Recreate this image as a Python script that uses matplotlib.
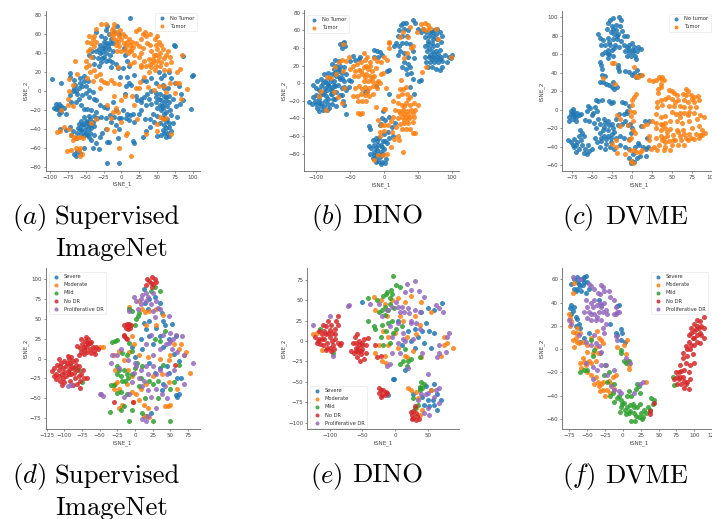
import matplotlib
matplotlib.use('Agg')
import matplotlib.pyplot as plt
import numpy as np

W, H = 712, 519

# (a) Supervised ImageNet, brain tumor
a_no_tumor = [(12,77),(-97,13),(100,17),(99,16),(97,-19),(-20,-76),(-3,-76),(75,47),(74,48),(86,37),
    (-35,62),(-28,58),(-22,64),(-18,60),(-25,52),(-20,50),(-15,55),(-30,48),(-26,45),(-18,44),(-12,50),(-22,40),(-30,40),(-36,42),(-41,42),(-33,35),(-25,36),(-16,38),(-12,42),(-28,30),(-21,32),(-38,28),(-31,26),(-13,30),(-8,28),(-5,24),(-20,68),(-6,68),(-3,60),(3,45),(5,38),(8,32),(-10,62),(-40,36),(-45,38),(-14,25),(2,24),(10,26),(-24,47),(-19,47),(-27,41),
    (-72,19),(-72,15),(-66,12),(-58,14),(-53,16),(-65,6),(-60,3),(-55,5),(-52,10),(-68,0),(-62,-3),(-50,-2),(-45,1),(-40,-1),(-45,-6),(-38,-8),(-35,-10),(-60,-8),(-64,-12),(-56,-15),(-70,-12),(-47,10),(-84,8),(-67,3),(-58,8),(-72,-4),
    (-92,-14),(-90,-17),(-87,-14),(-84,-16),(-92,-19),(-88,-20),(-84,-22),(-81,-18),(-87,-24),(-78,-24),(-94,-18),(-86,-18),
    (-53,-19),(-48,-19),(-42,-20),(-52,-27),(-45,-26),(-38,-26),(-34,-28),(-28,-27),(-22,-29),(-56,-32),(-50,-32),(-44,-30),(-60,-35),(-55,-36),(-50,-37),(-45,-35),(-40,-33),(-58,-40),(-52,-41),(-47,-40),(-42,-39),(-38,-37),(-62,-44),(-56,-45),(-50,-44),(-44,-44),(-72,-38),(-68,-42),(-78,-41),(-86,-40),(-70,-46),(-64,-50),(-45,-48),(-38,-46),(-42,-52),(-36,-55),(-32,-61),(-40,-60),(-52,-60),(-62,-63),(-66,-66),(-64,-68),(-58,-65),(-20,-54),(-18,-54),(-27,-44),(-30,-48),
    (-25,-17),(-20,-18),(-12,-12),(-8,-20),(-16,-25),(-10,-27),(-4,-28),(-14,-33),(0,-28),(6,-28),(8,-24),(12,-25),(16,-24),(10,-31),(18,-33),(-3,-40),(-8,-36),(-22,-40),(16,-53),(18,-55),(-5,-50),(5,-3),(6,5),(10,8),(13,6),(-2,15),(8,15),(17,17),(-35,-22),(-30,-15),(2,-20),(22,-10),(28,-8),(20,-5),
    (30,12),(35,10),(42,14),(48,8),(55,14),(60,17),(52,20),(66,20),(70,14),(75,8),(80,5),(84,-3),(86,-10),(82,-14),(76,-16),(72,-8),(66,-5),(60,-5),(54,-3),(48,-2),(42,0),(36,-3),(32,-6),(28,-12),(34,-15),(42,-14),(48,-12),(55,-10),(60,-13),(64,-16),(68,-20),(62,-22),(56,-20),(50,-18),(44,-24),(50,-26),(58,-28),(64,-30),(70,-25),(78,-27),(40,-30),(33,-30),(46,-33),(54,-34),(60,-36),(66,-38),(72,-34),(58,-41),(64,-44),(70,-42),(50,-47),(56,-46),(63,-48),(30,-48),(34,-42),(40,-38),(62,-10),(66,-12),(57,-16),(60,3),(48,-6),(58,6),(65,3),(24,-24),(27,-20),(38,-8),
    (-23,56),(-16,50),(-32,44),(-23,44),(-27,35),(-18,33),(-54,-35),(-48,-33),(-52,-46),(-48,-46),(-56,-41),(-61,-39),(-44,-36),(58,-18),(60,-24),(62,-32),(66,-34),(60,-44),(66,-47),(62,-39),(54,-15),(52,-8),(63,-6),(-63,0),(-55,-4),(-50,5)]
a_tumor = [(-35,65),(-28,70),(-22,70),(-12,66),(-10,71),(-6,62),(-2,64),(5,58),(10,55),(15,52),(-45,58),(-40,55),(-48,52),(-42,50),(-38,47),(-35,52),(-15,60),(-12,56),(-8,54),(-4,58),(0,55),(3,50),(7,47),(12,48),(16,46),(20,50),(-8,48),(-3,47),(-6,42),(0,42),(5,43),(9,40),(14,42),(18,38),(-47,42),(-42,36),(-50,32),(-46,27),(-38,22),(-30,18),(-36,16),(-44,20),(-50,25),(-48,14),(-28,12),(-25,9),(-20,8),(-40,10),(-30,3),(-65,32),(-62,18),(-73,13),(-68,6),(-75,-8),(-73,0),
    (20,63),(25,65),(33,62),(34,58),(28,55),(24,47),(28,40),(30,45),(40,60),(47,55),(50,58),(52,52),(55,48),(48,48),(40,48),(36,50),(42,42),(48,38),(54,40),(60,35),(65,42),(68,36),(70,30),(62,28),(56,30),(50,32),(44,30),(38,34),(32,32),(28,27),(34,26),(42,25),(48,26),(54,26),(60,22),(66,22),(78,20),(82,23),(85,38),(18,30),(12,28),(24,36),(28,25),(38,20),(-5,25),
    (20,3),(25,3),(32,15),(26,9),(37,4),(45,1),(52,5),(62,-1),(68,8),(75,-2),(77,8),(80,8),(92,2),(83,-8),(60,5),(50,-35),(58,-30),(62,-28),(54,-27),(70,-45),(50,-42),(35,-45),
    (-4,7),(-10,8),(-15,12),(5,-5),(0,-10),(-10,-5),(-20,-15),(-5,-22),(-12,-22),(-8,-18),(0,-33),(8,-44),(7,-46),(-10,-42),(-4,-60),(13,-69),(-15,-28),(-20,-40),(18,-15),(15,-5),(22,-30),
    (-90,-43),(-86,-42),(-80,-38),(-74,-40),(-70,-46),(-66,-48),(-62,-50),(-68,-52),(-58,-48),(-54,-50),(-64,-60),(-60,-62),(-70,-62),(-76,-63),(-58,-68),(-55,-66),(-58,-60),(-42,-34),(-35,-30),(-84,-20),(-75,-15),(-68,-16),
    (-10,60),(-5,52),(2,60),(8,52),(12,43),(-13,64),(45,38),(50,44),(44,34),(52,36),(58,44),(40,28),(47,22),(62,38),(-44,44),(-38,58),(30,60)]

# (b) DINO, brain tumor
b_no_tumor = [(-110,-21),(-106,-24),(-102,-20),(-98,-28),(-95,-32),(-90,-30),(-100,-14),(-104,-16),(-96,-18),(-92,-22),(-88,-26),(-84,-31),(-80,-28),(-86,-20),(-82,-18),(-76,-24),(-70,-26),(-72,-18),(-78,-12),(-90,-12),(-95,-8),(-100,-5),(-92,-3),(-86,-6),(-82,-2),(-76,-5),(-70,-10),(-65,-14),(-60,-20),(-58,-25),(-56,-35),(-104,-2),(-98,2),(-92,5),(-86,3),(-80,6),(-74,3),(-68,-2),(-62,-6),(-56,-8),(-52,-4),(-88,10),(-82,12),(-76,10),(-70,8),(-64,5),(-58,2),(-52,4),(-48,2),(-74,16),(-68,14),(-62,12),(-56,10),(-76,22),(-70,20),(-64,20),(-58,18),(-72,26),(-66,25),(-60,46),(-58,47),(-64,44),(-57,42),(-62,40),(-50,25),(-45,31),(-42,26),(-37,27),(-35,30),(-85,-15),(-78,-8),(-72,-3),(-66,7),(-94,-13),(-75,-18),(-62,-14),
    (-14,38),(-10,37),(-6,35),(-3,32),(-8,30),(-15,30),(5,14),(8,15),(-25,-9),(-28,-10),(7,-12),(-12,-3),
    (25,66),(28,68),(33,68),(30,62),(22,60),(36,60),(20,54),(27,54),(34,54),(42,72),(45,68),(50,62),(55,58),(18,45),(22,42),(15,42),(26,46),(32,46),(38,44),(24,36),(30,34),(20,32),(36,30),(42,36),(44,28),(30,24),(36,22),(26,18),(32,16),(38,18),(40,12),(34,10),(42,5),(52,2),(55,4),(38,-4),(44,-12),
    (58,62),(62,58),(66,54),(70,58),(74,60),(78,62),(82,58),(86,54),(60,52),(65,48),(72,50),(78,50),(84,47),(60,42),(66,40),(72,42),(78,43),(63,36),(70,36),(76,36),(82,38),(60,30),(66,30),(72,30),(78,30),(84,30),(90,32),(96,30),(99,28),(100,32),(62,24),(68,24),(74,24),(80,24),(86,25),(92,24),(64,18),(70,18),(76,16),(82,15),(86,18),
    (-22,-49),(-20,-52),(-6,-48),(-3,-40),(2,-42),(8,-38),(-2,-32),(-5,-46),(0,-58),(6,-55),(12,-50),(16,-45),(8,-62),(14,-60),(2,-66),
    (-22,-71),(-19,-74),(-14,-70),(-10,-66),(-8,-70),(-3,-72),(-16,-64),(-12,-62),(-7,-62),(-2,-66),(4,-68),(-20,-80),(-15,-78),(-10,-76),(-5,-78),(0,-75),(-16,-85),(-12,-84),(-6,-84),(-1,-80),(-8,-88),(-3,-90),(1,-91),(3,-86),(-11,-90),(-5,-92),
    (-88,-10),(-84,-8),(-80,-3),(-74,-2),(-90,0),(-84,0),(-78,3),(-72,12),(-66,16),(-62,6),(-58,-4),(-96,-22),(-100,-24),(-92,-26),(-76,-12),(-82,-24),(68,58),(72,54),(76,56),(64,44),(70,46),(68,32),(74,33),(80,33),(76,27),(70,27),(82,27),(-12,-74),(-8,-80),(-14,-82),(-4,-70)]
b_tumor = [(-60,44),(-72,18),(-66,24),(-62,26),(-56,25),(-52,30),(-60,14),(-70,10),(-78,6),(-84,7),(-92,-9),(-95,-15),(-74,-10),(-68,-16),(-62,-22),(-85,-30),(-58,-5),
    (-50,16),(-46,20),(-40,22),(-34,24),(-28,26),(-30,34),(-25,30),(-20,24),(-14,28),(-10,25),(-4,24),(0,30),(5,26),(-42,14),(-36,15),(-30,18),(-24,16),(-18,14),(-12,17),(-44,8),(-38,8),(-32,10),(-26,10),(-20,8),(-14,8),(-30,2),(-24,2),(-18,2),(-12,0),(-6,0),(-5,10),(-42,-5),(-36,-3),(-28,-4),(-22,-6),(-16,-3),(-10,-6),(-45,-15),(-40,-15),(-34,-12),(-28,-13),(-22,-15),(-16,-12),(-38,-20),(-32,-20),(-26,-20),(-38,-34),(-35,-35),(-32,-34),(-12,-27),(0,-29),(2,-29),(3,-5),(-1,12),(7,40),(7,47),(8,45),
    (24,-7),(28,-7),(33,-4),(25,4),(20,-15),(26,-12),(34,-12),(38,-16),(14,-20),(20,-22),(26,-25),(32,-22),(38,-25),(44,-22),(50,-25),(16,-30),(22,-32),(28,-30),(34,-32),(40,-30),(46,-30),(14,-38),(20,-40),(26,-38),(32,-38),(38,-38),(44,-38),(24,-46),(30,-45),(36,-45),(42,-44),(26,-52),(32,-52),(38,-52),(46,-56),(42,-56),(18,-50),(12,-55),(20,-60),(22,-65),(15,-63),(28,-78),(-8,-42),(-4,-47),(0,-48),(-6,-55),(0,-54),(-6,-60),(6,-47),(10,-43),(10,-72),(-2,-82),(-8,-82),(-14,-87),(4,-80),
    (48,58),(55,67),(60,68),(64,66),(58,62),(63,60),(68,63),(76,62),(80,50),(62,18),(56,13),(98,30),(38,64),(28,58),(24,52),(36,52),(40,40),(34,34),(30,28),(42,42),
    (-27,20),(-21,19),(-33,14),(-28,7),(-17,6),(-9,3),(-25,-10),(-32,-7),(30,-35),(36,-35),(30,-42),(36,-41),(24,-34),(42,-34),(30,-26),(36,-18)]

# (c) DVME, brain tumor
c_no_tumor = [(-30,94),(-27,97),(-23,99),(-16,100),(-14,97),(-20,92),(-25,90),(-31,87),(-20,86),(-15,90),(-12,85),(-26,84),(-22,82),(-17,82),(-10,80),(-6,80),(-42,82),(-40,78),(-36,75),(-30,78),(-24,76),(-19,76),(-14,74),(-38,70),(-33,70),(-27,70),(-21,70),(-16,68),(-30,65),(-25,65),(-34,62),(-28,60),(-37,60),(-30,56),(-24,58),(-10,70),(-6,68),(-3,70),(0,72),(3,68),(8,68),(11,66),(-8,64),(-3,62),(2,62),(6,63),(-6,58),(-1,58),(4,58),(5,55),(-40,52),(-38,48),(-37,44),(-37,38),(-34,36),(-40,30),(-36,30),(-32,28),(-28,27),(-25,25),(-22,22),(-19,25),(-24,30),(-17,48),(-17,45),(-16,42),(-8,42),(-3,41),(0,38),(3,40),(6,43),(9,38),(12,37),(5,35),
    (-76,-5),(-78,-8),(-74,-10),(-70,-8),(-66,-6),(-72,-2),(-76,-1),(-73,1),(-78,-12),(-70,-12),(-64,-5),(-59,-11),
    (-52,2),(-55,4),(-56,-1),(-48,-3),(-44,-1),(-46,3),(-50,-6),(-42,-10),(-53,-12),(-47,-14),(-40,-15),(-35,-10),(-30,-12),(-25,-15),(-35,-19),(-30,-22),(-24,-20),(-20,-10),(-17,-17),(-12,-15),(-8,-12),(-5,-17),(-2,-15),(-16,-5),(-10,-5),(-6,-3),(-40,-25),(-35,-28),(-30,-28),(-25,-26),(-20,-30),(-15,-28),(-10,-31),(-45,-20),(-46,-30),(-44,-35),(-38,-34),(-32,-37),(-26,-35),(-40,-40),(-34,-42),(-27,-40),(-22,-42),(-15,-38),(-8,-40),(-3,-42),(4,-40),(9,-38),(14,-40),(18,-42),(-45,11),(-42,9),(-37,11),(-28,9),(-26,7),(-23,8),(-12,8),(-8,7),(-4,4),(-6,-1),
    (-80,-33),(-76,-35),(-72,-32),(-68,-35),(-66,-28),(-62,-25),(-60,-28),(-65,-22),(-72,-40),(-66,-42),(-62,-38),(-58,-42),(-55,-38),(-70,-46),(-60,-47),(-54,-45),(-56,-48),(-50,-42),
    (-3,-52),(0,-55),(-1,-58),(3,-56),(6,-52),(2,-48),(10,-50),(18,-50),(20,-40),(8,-36),(-4,-32),(-1,-25),(0,-20),(12,-18),(16,-12),(22,-12),(19,-30),
    (-24,87),(-18,80),(-28,73),(-22,67),(-30,60),(-3,66),(1,65),(-74,-5),(-72,-7),(-68,-4),(-38,-30),(-32,-32),(-26,-30),(-36,-22),(-28,-17),(-34,-14),(-22,-24),(-70,-38),(-64,-33),(-74,-38)]
c_tumor = [(-25,50),(-22,50),(-36,34),(-21,28),(3,46),(5,36),(8,35),(13,37),(22,32),(26,31),(30,32),(34,35),(37,33),(40,32),(38,35),(36,28),(37,25),(33,22),(33,18),(46,21),(50,20),(53,18),(57,16),(64,17),(68,22),(71,20),(74,16),(78,14),(83,15),(31,8),(36,10),(41,12),(45,14),(50,12),(58,10),(65,10),(71,8),(78,8),(84,10),(32,3),(38,5),(47,4),(53,4),(60,4),(66,3),(73,3),(80,3),(50,-2),(55,-5),(60,-3),(66,-3),(72,-2),(78,-4),(85,-6),(90,-8),(30,-5),(36,-8),(42,-7),(25,-12),(30,-14),(36,-15),(42,-14),(48,-12),(56,-12),(63,-14),(72,-12),(82,-10),(14,-18),(19,-15),(30,-20),(36,-22),(42,-20),(48,-21),(56,-22),(64,-22),(76,-20),(84,-18),(88,-22),(92,-25),(86,-27),(80,-26),(72,-26),(66,-26),(60,-28),(52,-27),(44,-28),(36,-28),(30,-30),(22,-28),(21,-33),(38,-33),(46,-34),(54,-33),(62,-33),(70,-33),(78,-32),(84,-31),(66,-38),(58,-38),(50,-38),(42,-40),(34,-38),(28,-40),(24,-42),(48,-43),(40,-43),(32,-44),
    (-1,-7),(-2,-1),(3,-2),(0,5),(0,10),(3,14),(5,17),(1,-12),(2,-22),(-1,-30),(4,-25),(-5,-16),(-15,-10),(-18,-6),(-15,-18),(-20,-33),(-25,-37),(-20,-40),(-18,-47),(-8,-48),(-2,-44),(3,-43),(5,-46),(10,-46),(13,-44),(-1,-55),(1,-57),(-4,-33),
    (38,-16),(44,-24),(40,-30),(52,-33),(58,-24),(68,-30),(74,-30),(88,-27),(60,-8),(70,-6),(75,12),(68,16),(54,8),(42,-35)]

# (d) Supervised ImageNet, diabetic retinopathy
d_severe = [(12,88),(20,75),(14,70),(28,78),(35,70),(18,62),(38,57),(40,47),(20,47),(12,45),(30,38),(42,42),(52,43),(35,28),(15,37),(20,28),(25,18),(8,25),(40,15),(48,25),(58,28),(10,12),(55,6),(62,-3),(45,-10),(35,-12),(48,-18),(60,-25),(65,-24),(-5,15),(0,2),(20,-5),(40,-32),(58,-46),(60,-48),(62,-44),(22,-68),(15,-72),(38,-40),(28,-18)]
d_moderate = [(-8,65),(5,72),(10,62),(14,58),(20,60),(30,62),(40,55),(15,42),(30,42),(-5,28),(-2,18),(55,18),(65,18),(72,8),(62,12),(50,5),(78,-18),(70,5),(-30,5),(-22,10),(-15,-2),(-8,8),(5,5),(18,2),(35,0),(48,-2),(-28,-15),(-25,-30),(-22,-38),(-30,-38),(-12,-32),(-5,-42),(2,-45),(8,-38),(15,-32),(25,-22),(38,-20),(48,-30),(-50,14),(-3,-55),(5,-52),(12,-58),(18,-62),(-18,-58),(-22,-62),(12,-72),(20,-74),(42,-60),(46,-60),(50,-58),(-28,-32),(-5,-22),(-10,-15),(-45,14),(60,-38)]
d_mild = [(-33,21),(-28,22),(-25,23),(-8,20),(-5,10),(-12,5),(-18,7),(0,42),(2,50),(4,53),(6,57),(-8,62),(-4,60),(36,85),(22,85),(28,90),(42,35),(36,22),(28,25),(-30,-33),(-25,-10),(-22,-15),(-25,-20),(-20,-22),(-16,-14),(-12,-20),(-18,-28),(-14,-28),(-10,-25),(-5,-20),(0,-12),(3,-5),(10,-10),(8,-25),(20,-28),(25,-32),(32,-28),(50,-38),(-34,-33),(-35,-67),(-20,-65),(-15,-60),(-5,-65),(10,-68),(25,-78),(-9,-78),(50,-78),(-25,-43),(5,-35),(55,-30),(40,-8),(-20,-42),(-12,-45),(-75,-30),(-80,-15),(-85,-12),(14,-50),(32,-50),(62,-8)]
d_no_dr = [(-118,-16),(-115,-12),(-112,-20),(-110,-8),(-108,-15),(-112,-26),(-106,-28),(-104,-20),(-102,-12),(-105,-5),(-108,0),(-100,-3),(-98,-10),(-95,-16),(-98,-22),(-100,-30),(-92,-28),(-90,-20),(-88,-12),(-92,-6),(-94,-1),(-88,-3),(-84,-8),(-82,-15),(-85,-24),(-88,-33),(-82,-32),(-78,-28),(-76,-20),(-74,-14),(-78,-37),(-80,-10),(-72,-24),(-68,-25),(-115,-22),(-103,-33),(-95,3),(-90,2),(-84,-2),
    (-80,5),(-76,8),(-78,13),(-82,16),(-75,18),(-71,22),(-76,24),(-70,27),(-66,25),(-62,21),(-66,18),(-70,15),(-64,12),(-60,15),(-58,10),(-62,7),(-68,8),(-72,6),(-55,14),(-52,12),(-56,6),
    (17,100),(20,98),(24,102),(28,100),(22,95),(26,94),(30,96),(16,93),(24,90),
    (-15,42),(-12,44),(-9,43),(-6,42),(-13,38),(-10,37),(-7,38),(-16,28),(-13,26),(-11,24),(-15,30),(-30,-55),(-3,-55),(56,-8),
    (-106,-10),(-102,-24),(-96,-6),(-94,-20),(-90,-10),(-86,-18),(-80,-22),(-108,-22),(-100,-17),(-92,-13),(-72,15),(-68,20),(-72,11),(-64,20)]
d_proliferative = [(10,80),(15,82),(25,82),(-2,78),(2,72),(8,75),(16,72),(22,68),(30,72),(36,62),(25,60),(4,62),(48,54),(-8,60),(28,52),(40,30),(50,32),(58,30),(66,28),(48,20),(52,12),(60,8),(70,5),(35,12),(25,5),(-20,12),(-25,5),(-32,4),(-34,-5),(-22,-12),(-10,-2),(0,-6),(8,-15),(15,-10),(25,-10),(35,-15),(45,-20),(55,-15),(70,-32),(82,-5),(-48,-45),(-46,-47),(-50,-45),(-95,-35),(-90,-33),(5,-25),(12,-28),(18,-40),(30,-38),(38,-45),(45,-50),(2,-10),(15,-78),(10,-76),(18,-72),(30,-62),(-8,-45),(-5,-30),(15,18),(22,30),(42,-35),(-15,-48),
    (50,22),(54,25),(44,18),(30,-20),(18,-20),(10,-35),(22,-48),(8,68),(18,78),(32,64),(-2,-18)]

# (e) DINO, diabetic retinopathy
e_severe = [(50,40),(60,38),(72,46),(40,35),(48,22),(42,12),(52,12),(60,10),(30,15),(20,12),(35,5),(45,-2),(55,-8),(25,0),(10,-5),(-2,-46),(-3,-46),(-10,-66),(28,-65),(38,-58),(48,-55),(60,-52),(55,-60),(65,-65),(70,-72),(42,-68),(50,-72),(58,-72),(45,-78),(52,-80),(65,-85),(60,-78),(30,-8),(5,25),(-50,48),(15,-35)]
e_moderate = [(-32,54),(-22,50),(-15,45),(-5,50),(5,52),(15,48),(25,55),(40,48),(-30,38),(-12,30),(8,30),(30,30),(55,35),(-18,12),(-10,5),(0,10),(18,5),(32,8),(-25,-5),(-15,-18),(-20,-25),(-10,-5),(5,-8),(15,-18),(28,-12),(-120,10),(-125,8),(-112,-11),(75,5),(88,-8),(80,-2),(75,-5),(70,-18),(20,-57),(25,-60),(32,-62),(35,-70),(55,-60),(38,-90),(32,-82),(42,-85),(-30,-15),(-14,-27),(18,-20),(40,-20),(12,25),(38,20)]
e_mild = [(-3,79),(-6,62),(-12,60),(-18,55),(-8,52),(2,68),(8,66),(-42,52),(-28,50),(-25,35),(-15,32),(-42,25),(-32,18),(-20,20),(-5,25),(-30,15),(-22,5),(-8,-2),(-18,-5),(2,15),(10,18),(15,-10),(20,-25),(25,-22),(38,-20),(12,-25),(18,-30),(8,-28),(-2,40),(-10,38),(-3,10),(-115,15),(-95,-15),(40,-50),(38,-56),(45,-53),(28,-70),(35,-78),(30,-82),(38,-60),(42,-58),(-20,38),(-8,45),
    (-14,58),(-4,58),(-16,42),(-10,22),(-14,12)]
e_no_dr = [(-122,5),(-118,0),(-115,-4),(-120,-2),(-112,8),(-108,12),(-105,18),(-102,25),(-108,3),(-104,-2),(-100,-8),(-110,-5),(-105,-11),(-98,-12),(-95,-5),(-100,5),(-96,10),(-92,15),(-90,25),(-88,30),(-92,2),(-88,-3),(-85,-5),(-82,-2),(-98,20),(-110,20),(-116,12),(-88,20),
    (-62,5),(-58,8),(-65,-3),(-60,-8),(-55,-5),(-50,-10),(-45,-5),(-48,3),(-42,4),(-68,-12),(-63,-15),(-57,-14),(-52,-16),(-48,-22),(-58,-20),(-53,-24),(-45,-15),(-55,0),(-50,-2),(-60,-2),
    (-30,-5),(-28,-20),(-22,-18),
    (-24,-58),(-22,-60),(-18,-60),(-14,-62),(-24,-64),(-20,-66),(-16,-66),(-12,-64),(-22,-68),
    (32,-88),(28,-86),(26,-90),(34,-92),(28,-94),(32,-97),(36,-96),(26,-96),(30,-80),(24,-87),
    (-112,2),(-106,8),(-100,14),(-104,-8),(-96,0),(-92,8),(-116,3),(-94,-10),(-102,10),(-56,-10),(-50,-5),(-60,-12),(-52,-12)]
e_proliferative = [(-72,43),(-70,44),(18,70),(30,74),(25,62),(36,61),(15,60),(45,54),(-12,38),(-5,42),(2,48),(10,42),(20,40),(30,38),(38,35),(62,44),(68,40),(74,36),(-100,30),(-125,19),(-20,30),(-8,18),(5,22),(12,10),(25,22),(38,15),(-5,5),(5,-2),(15,0),(28,2),(-5,-15),(-8,-28),(-12,-30),(8,-15),(20,-33),(50,-40),(42,-15),(65,-20),(68,-15),(78,-14),(80,5),(82,10),(68,-5),(-95,-18),(40,-65),(50,-63),(62,-60),(68,-58),(45,-88),(50,-82),(52,-90),(60,-68),(68,-76),(35,-72),(48,-65),(-25,45),(-38,45),
    (8,35),(14,36),(22,34),(5,42),(24,24),(32,22),(12,2)]

# (f) DVME, diabetic retinopathy
f_severe = [(-68,52),(-72,56),(-68,60),(-64,62),(-60,60),(-55,62),(-52,63),(-50,58),(-62,56),(-56,55),(-48,52),(-66,50),(-58,50),(-52,48),(-72,38),(-74,35),(-70,33),(-68,36),(-72,30),(-66,28),(-64,26),(-62,22),(-66,20),(-60,18),(-30,38),(-34,42),(-18,22),(-5,38),(-8,37),(-9,14),(-8,12),(-2,17),(-1,14),(-2,8),(3,6),(-55,10),(-48,14),(-60,6),(-32,-3),
    (-64,58),(-60,54),(-54,58),(-64,52),(-56,60)]
f_moderate = [(-75,30),(-74,27),(-72,24),(-74,20),(-70,48),(-68,57),(-70,15),(-64,18),(-60,14),(-66,10),(-70,8),(-68,2),(-62,5),(-56,6),(-50,4),(-44,10),(-36,16),(-34,10),(-30,8),(-38,2),(-28,5),(-35,-3),(-42,-3),(-50,-2),(-56,-8),(-60,-12),(-58,-16),(-52,-14),(-44,-12),(-38,-10),(-50,-20),(-44,-22),(-38,-24),(-40,-30),(-35,-28),(-30,-30),(-32,-36),(-28,-35),(-22,-35),(-25,-40),(-18,-38),(-12,-34),(-10,-22),(-14,-24),(6,8),(2,4),(-8,2),(5,-4),(7,-10),(8,-14),(9,-17),(-20,-27),(-16,-30),(32,-28),
    (-54,-11),(-48,-10),(-64,6),(-34,-32),(-28,-28),(-66,14)]
f_mild = [(-45,8),(-40,-1),(-42,-6),(-50,-18),(-55,-18),(-25,-14),(-20,-20),(-27,-22),(-22,-28),(-12,-30),(-18,-40),(-14,-38),(-8,-42),(-12,-45),(-5,-40),(-3,-44),(-2,-50),(-4,-54),(2,-46),(3,-52),(6,-40),(8,-36),(12,-40),(10,-48),(14,-47),(8,-55),(4,-56),(12,-62),(17,-62),(16,-55),(20,-50),(25,-55),(22,-58),(27,-60),(30,-52),(35,-50),(38,-52),(42,-47),(44,-44),(40,-42),(20,-30),(23,-32),(18,-34),(24,-38),(-2,-1),(-3,-3),(1,-10),(5,-12),(8,-10),(70,-24),(72,-31),(28,-58),(33,-55),(-60,-20),
    (6,-50),(10,-53),(15,-50),(18,-57),(-1,-47),(24,-47)]
f_no_dr = [(113,28),(108,24),(104,25),(100,22),(110,20),(114,18),(106,18),(100,16),(96,18),(104,12),(110,12),(114,10),(98,10),(92,12),(104,6),(108,5),(100,4),(92,6),(94,0),(88,3),(98,-4),(90,-6),(84,-8),(88,-12),(94,-14),(100,-12),(80,-14),(86,-18),(92,-20),(78,-20),(74,-20),(72,-26),(78,-26),(84,-24),(76,-30),(82,-30),(90,-28),(94,-26),(86,-33),(92,-34),(43,-46),(38,-53),(38,-56),
    (104,20),(108,14),(100,10),(96,4),(90,0),(84,-3),(82,-19),(86,-27),(80,-24),(88,-30),(102,17),(96,14),(76,-24)]
f_proliferative = [(-70,62),(-60,60),(-48,56),(-44,54),(-40,52),(-35,48),(-30,55),(-28,53),(-26,50),(-32,47),(-20,50),(-18,45),(-12,42),(-52,42),(-50,36),(-45,40),(-42,36),(-36,38),(-26,40),(-55,32),(-48,32),(-40,30),(-34,32),(-28,32),(-22,30),(-50,27),(-44,25),(-38,25),(-30,25),(-24,22),(-28,18),(-26,14),(-10,36),(-8,32),(-10,30),(-5,32),(-12,30),(-76,25),(-72,22),(-62,12),(-52,6),(-44,4),(-38,5),(-34,3),(-40,12),(-30,-2),(-10,11),(-8,8),(4,-8),(10,-12),(-52,-12),(-42,-15),(-36,-18),(-30,-14),(-24,-14),(-12,-18),(-42,-26),(-22,-22),(-16,-32),(-12,-35),(-5,-36),(16,-38),(28,-28),(24,-30),(-3,-38),
    (-40,42),(-32,40),(-44,30),(-36,28),(-30,36),(-24,34)]

tumor_labels = ['No Tumor', 'Tumor']
tumor_labels_c = ['No tumor', 'Tumor']
dr_labels = ['Severe', 'Moderate', 'Mild', 'No DR', 'Proliferative DR']
colors = ['tab:blue', 'tab:orange', 'tab:green', 'tab:red', 'tab:purple']

plt.rcParams['mathtext.fontset'] = 'cm'
fig = plt.figure(figsize=(W / 100, H / 100), dpi=100)


def panel(box, xlim, ylim, xticks, yticks, series, labels, legend_box, title):
    l, t, r, b = box
    ax = fig.add_axes([l / W, 1 - b / H, (r - l) / W, (b - t) / H])
    for pts, lab, col in zip(series, labels, colors):
        pts = np.array(pts)
        ax.scatter(pts[:, 0], pts[:, 1], s=13, c=col, alpha=0.85, linewidths=0, label=lab)
    ax.set_xlim(xlim)
    ax.set_ylim(ylim)
    ax.set_xticks(xticks)
    ax.set_yticks(yticks)
    ax.tick_params(labelsize=4, length=1.5, width=0.4, pad=1.5, colors='#444444')
    ax.set_xlabel('tSNE_1', fontsize=4, labelpad=1, color='#444444')
    ax.set_ylabel('tSNE_2', fontsize=4, labelpad=1, color='#444444')
    ax.spines['top'].set_visible(False)
    ax.spines['right'].set_visible(False)
    for s in ['left', 'bottom']:
        ax.spines[s].set_linewidth(0.6)
        ax.spines[s].set_color('#666666')
    # legend box is given as its upper-left corner in pixels
    leg = ax.legend(loc='upper left', bbox_to_anchor=(legend_box[0] / W, 1 - legend_box[1] / H),
                    bbox_transform=fig.transFigure, fontsize=3.7, borderaxespad=0, labelspacing=0.62,
                    handletextpad=0.5, borderpad=0.5, frameon=True, framealpha=0.8,
                    edgecolor='#dddddd', fancybox=True, labelcolor='#333333', markerscale=0.8)
    leg.get_frame().set_linewidth(0.4)
    for txt, x, y in title:
        fig.text(x / W, 1 - y / H, txt, fontsize=19.2, color='black', va='baseline',
                 family='cmr10' if not txt.startswith('$') else None)
    return ax


panel((45.7, 10.7, 200, 170.7), (-106, 110), (-84, 84.5),
      np.arange(-100, 101, 25), np.arange(-80, 81, 20),
      [a_no_tumor, a_tumor], tumor_labels, (154.5, 13),
      [('$(a)$', 12, 224), ('Supervised', 55, 224), ('ImageNet', 55, 256)])
panel((304.3, 10, 459.3, 171.3), (-117, 110.7), (-100, 83),
      np.arange(-100, 101, 50), np.arange(-80, 81, 20),
      [b_no_tumor, b_tumor], tumor_labels, (306.5, 14.5),
      [('$(b)$', 311, 224), ('DINO', 352.5, 224)])
panel((562.3, 10.7, 717, 171.3), (-87, 106.7), (-66.5, 107),
      np.arange(-75, 101, 25), np.arange(-60, 101, 20),
      [c_no_tumor, c_tumor], tumor_labels_c, (668.5, 13.5),
      [('$(c)$', 562.5, 224), ('DVME', 605, 224)])
panel((45.7, 268, 200, 429.3), (-126.5, 92), (-89, 113.9),
      np.arange(-125, 76, 25), np.arange(-75, 101, 25),
      [d_severe, d_moderate, d_mild, d_no_dr, d_proliferative], dr_labels, (48.5, 271.5),
      [('$(d)$', 12, 482.5), ('Supervised', 55, 482.5), ('ImageNet', 55, 515)])
panel((307.3, 268, 459.3, 429.3), (-134.3, 98.4), (-108, 89.3),
      np.arange(-100, 51, 50), np.arange(-100, 76, 25),
      [e_severe, e_moderate, e_mild, e_no_dr, e_proliferative], dr_labels, (309.5, 385.5),
      [('$(e)$', 310, 482.5), ('DINO', 352.5, 482.5)])
panel((562.3, 268, 717, 429.3), (-84.8, 131.8), (-68.8, 69.7),
      np.arange(-75, 126, 25), np.arange(-60, 61, 20),
      [f_severe, f_moderate, f_mild, f_no_dr, f_proliferative], dr_labels, (650.5, 271.5),
      [('$(f)$', 562.5, 482.5), ('DVME', 605, 482.5)])

fig.savefig('out.png', dpi=100)
